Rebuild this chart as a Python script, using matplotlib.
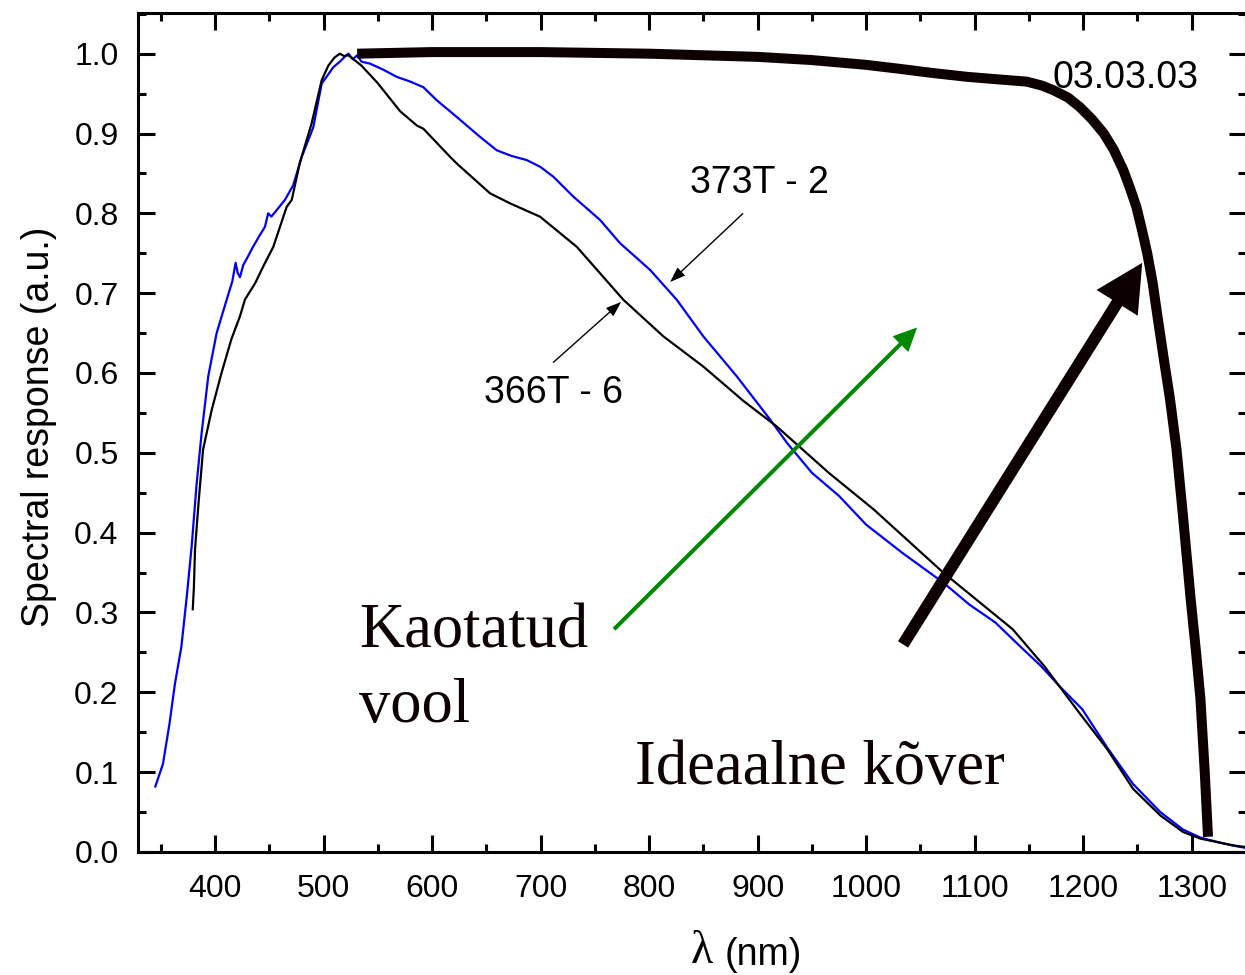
import matplotlib
matplotlib.use('Agg')
import matplotlib.pyplot as plt
from matplotlib.ticker import MultipleLocator, FormatStrFormatter

# sample 373T - 2 (blue)
wl_373 = [345, 352, 358, 363, 369, 374, 378.5, 383, 387.7, 393.8, 401.5, 410.8, 416, 419, 421,
          423, 426, 430, 435, 441, 446, 449, 452, 458, 464.5, 472, 480, 490.6, 498.3, 509, 515,
          521, 523, 527, 531, 535, 542.9, 555, 567.4, 580, 592, 604.3, 622.7, 644.2, 659.6, 673,
          687.3, 700, 711.8, 730.3, 754.8, 773.3, 801, 825.5, 850, 880.8, 911.5, 927, 950, 975,
          1000, 1033, 1071, 1095, 1119, 1140, 1161, 1180, 1199, 1222, 1246, 1271, 1292, 1308,
          1325, 1338, 1350]
sr_373 = [0.082, 0.11, 0.16, 0.21, 0.257, 0.32, 0.383, 0.46, 0.525, 0.596, 0.650, 0.692, 0.715,
          0.738, 0.725, 0.72, 0.735, 0.745, 0.758, 0.772, 0.783, 0.80, 0.796, 0.806, 0.817, 0.835,
          0.871, 0.908, 0.9625, 0.983, 0.99, 0.998, 1.0, 0.993, 0.998, 0.99, 0.9875, 0.98, 0.971,
          0.965, 0.958, 0.9417, 0.9208, 0.8958, 0.879, 0.872, 0.8667, 0.858, 0.8458, 0.8208,
          0.7917, 0.7625, 0.729, 0.6917, 0.6458, 0.5958, 0.5417, 0.5125, 0.475, 0.446, 0.41,
          0.375, 0.3375, 0.31, 0.2875, 0.26, 0.233, 0.205, 0.179, 0.131, 0.085, 0.05, 0.028,
          0.018, 0.012, 0.008, 0.005]

# sample 366T - 6 (black)
wl_366 = [379.5, 380.5, 381.6, 385, 389, 397, 406, 415, 423, 427.6, 437, 445, 453.7, 466, 470.7,
          478, 489, 498.3, 504.4, 510, 515, 519, 523, 535, 550, 570.5, 586, 592, 616.6,
          622.7, 653.5, 671.9, 699.5, 733.4, 776.3, 813.2, 850, 886.9, 917.6, 965.5, 1007, 1071,
          1135, 1164, 1196, 1222, 1246, 1271, 1292, 1308, 1338, 1350]
sr_366 = [0.304, 0.33, 0.379, 0.44, 0.504, 0.554, 0.60, 0.642, 0.671, 0.692, 0.7125, 0.735, 0.758,
          0.808, 0.8167, 0.8625, 0.9125, 0.9667, 0.985, 0.995, 1.0, 0.997, 0.998, 0.985, 0.963,
          0.928, 0.91, 0.906, 0.8708, 0.8625, 0.825, 0.8125, 0.7958, 0.758, 0.6917, 0.6458,
          0.608, 0.565, 0.533, 0.475, 0.429, 0.35, 0.279, 0.233, 0.175, 0.129, 0.079, 0.0458,
          0.025, 0.0167, 0.0083, 0.006]

# ideal curve ("03.03.03")
wl_ideal = [531, 600, 700, 800, 900, 950, 1000, 1031, 1060, 1093, 1120, 1148, 1162, 1173, 1186,
            1197, 1208, 1219, 1228, 1237, 1243, 1249, 1254, 1259, 1264, 1268, 1274, 1280, 1286,
            1292, 1299, 1304, 1308, 1312, 1315]
sr_ideal = [1.0, 1.002, 1.002, 1.0, 0.996, 0.992, 0.986, 0.981, 0.976, 0.971, 0.968, 0.965, 0.960,
            0.954, 0.945, 0.933, 0.918, 0.900, 0.880, 0.854, 0.832, 0.808, 0.780, 0.75, 0.713,
            0.675, 0.62, 0.567, 0.504, 0.42, 0.317, 0.25, 0.192, 0.1, 0.019]

dark = '#0d0000'
sans = 'Liberation Sans'
serif = 'Liberation Serif'
plt.rcParams['font.family'] = sans

fig = plt.figure(figsize=(12.45, 9.75), dpi=100)
ax = fig.add_axes([0.1108, 0.1262, 0.8900, 0.8605])

ax.plot(wl_373, sr_373, color='#0000ff', lw=1.6)
ax.plot(wl_366, sr_366, color='black', lw=1.6)
ax.plot(wl_ideal, sr_ideal, color=dark, lw=7.2, solid_capstyle='butt', solid_joinstyle='round')

ax.set_xlim(329, 1350)
ax.set_ylim(0, 1.051)
ax.set_xticks([400, 500, 600, 700, 800, 900, 1000, 1100, 1200, 1300])
ax.xaxis.set_minor_locator(MultipleLocator(50))
ax.yaxis.set_major_locator(MultipleLocator(0.1))
ax.yaxis.set_minor_locator(MultipleLocator(0.05))
ax.yaxis.set_major_formatter(FormatStrFormatter('%.1f'))

for s in ax.spines.values():
    s.set_linewidth(2.2)
ax.tick_params(which='both', direction='in', top=True, right=True, width=2.2)
ax.tick_params(which='major', length=12, labelsize=23)
ax.tick_params(which='minor', length=6)
ax.tick_params(axis='x', which='major', pad=16)
ax.tick_params(axis='y', which='major', pad=14)

ax.set_ylabel('Spectral response (a.u.)', fontsize=27)
ax.yaxis.set_label_coords(-0.073, 0.507)

fig.text(702 / 1245, 1 - 963 / 975, '\u03bb', family=serif, fontsize=33, ha='center', va='baseline')
fig.text(725 / 1245, 1 - 965 / 975, '(nm)', fontsize=27, ha='left', va='baseline')

# labels
ax.text(1172, 0.969, '03.03.03', fontsize=27, ha='left', va='center')
ax.text(902, 0.838, '373T - 2', fontsize=27, ha='center', va='center')
ax.text(712, 0.575, '366T - 6', fontsize=27, ha='center', va='center')
ax.text(533, 0.2566, 'Kaotatud', family=serif, fontsize=45, color=dark, va='baseline')
ax.text(533, 0.163, 'vool', family=serif, fontsize=45, color=dark, va='baseline')
ax.text(787, 0.0854, 'Ideaalne kõver', family=serif, fontsize=45, color=dark, va='baseline')

# arrows
small = 'simple,head_length=11,head_width=8,tail_width=1.0'
ax.annotate('', xy=(819.4, 0.714), xytext=(886.6, 0.800),
            arrowprops=dict(arrowstyle=small, mutation_scale=1, fc='black', ec='none',
                            shrinkA=0, shrinkB=0))
ax.annotate('', xy=(774.2, 0.689), xytext=(711.5, 0.613),
            arrowprops=dict(arrowstyle=small, mutation_scale=1, fc='black', ec='none',
                            shrinkA=0, shrinkB=0))
ax.annotate('', xy=(1047, 0.657), xytext=(767.7, 0.279),
            arrowprops=dict(arrowstyle='simple,head_length=17,head_width=16,tail_width=2.9',
                            mutation_scale=1, fc='#008800', ec='none', shrinkA=0, shrinkB=0))
ax.annotate('', xy=(1254.4, 0.738), xytext=(1034, 0.260),
            arrowprops=dict(arrowstyle='simple,head_length=34,head_width=35,tail_width=8.6',
                            mutation_scale=1, fc=dark, ec='none', shrinkA=0, shrinkB=0))

plt.savefig('out.png', dpi=100)
